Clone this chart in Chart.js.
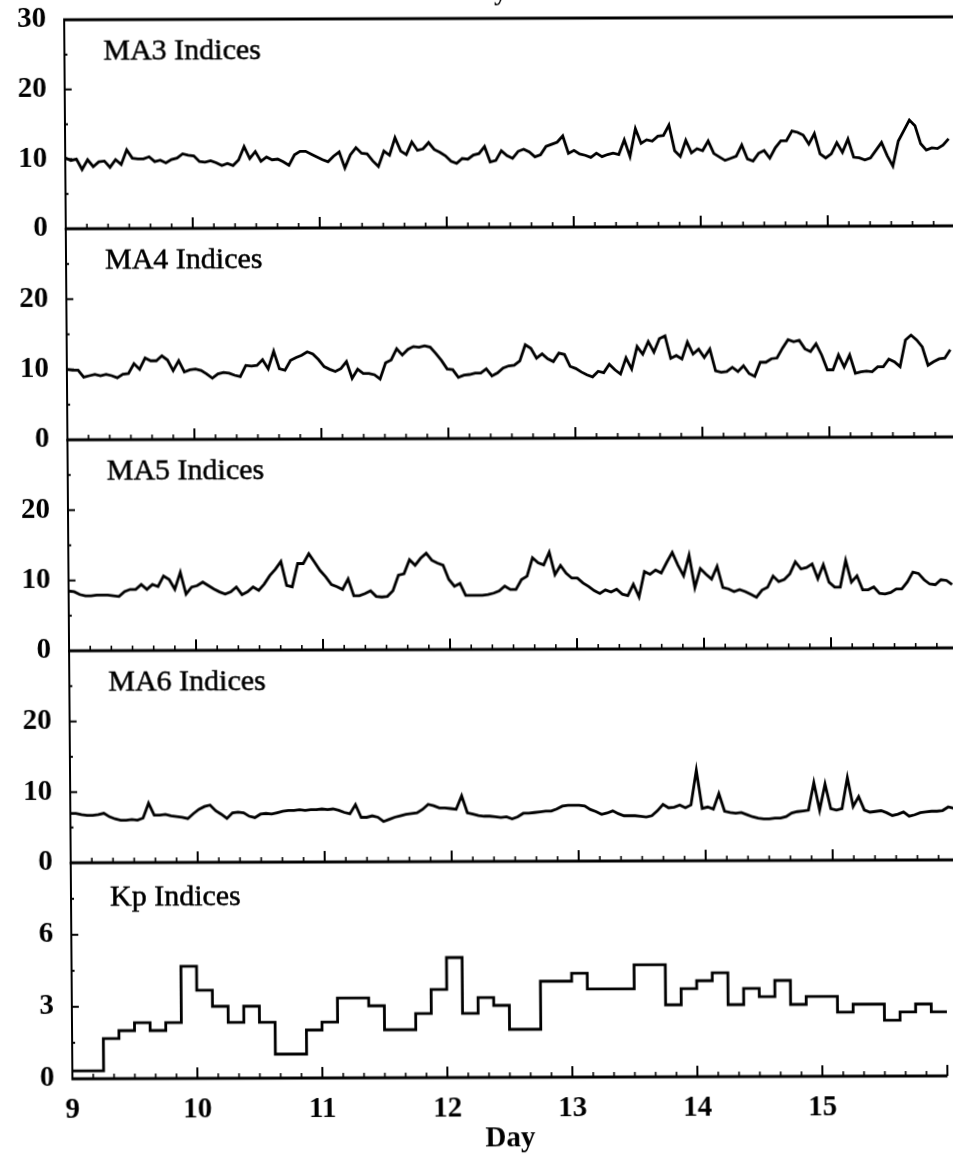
<!DOCTYPE html>
<html>
<head>
<meta charset="utf-8">
<script src="https://cdn.jsdelivr.net/npm/chart.js@4.4.1/dist/chart.umd.min.js"></script>
<style>
    html, body { margin: 0; padding: 0; background: #fff; overflow: hidden; }
    #page {
        position: relative; width: 953px; height: 1172px;
        transform-origin: 0 0;
        /* the scan is slightly skewed: lower parts sit further right, right side a bit higher */
        transform: matrix(1, -0.0033, 0.0078, 1, 0, 0);
    }
    #page canvas { position: absolute; left: 0; }
    .panel-name {
        position: absolute; left: 103px;
        font-family: "Liberation Serif", serif; font-size: 30px; line-height: 30px;
        color: #000; white-space: nowrap; -webkit-text-stroke: 0.5px #000;
    }
</style>
</head>
<body>
<div id="page"></div>
<script>
// MA indices, one reading about every 63 minutes from day 9.0
const SAMPLE_STEP = 0.04403;
const ma3 = [
    10.2, 9.8, 10.0, 8.5, 9.9, 8.9, 9.6, 9.7, 8.8, 9.9,
    9.2, 11.3, 10.1, 10.0, 10.0, 10.3, 9.6, 9.8, 9.4, 9.9,
    10.1, 10.7, 10.5, 10.4, 9.6, 9.5, 9.7, 9.4, 9.0, 9.3,
    9.0, 9.8, 11.7, 10.0, 11.0, 9.6, 10.2, 9.8, 9.9, 9.5,
    9.0, 10.5, 11.0, 11.0, 10.6, 10.2, 9.8, 9.5, 10.3, 10.9,
    8.6, 10.5, 11.5, 10.7, 10.6, 9.6, 8.8, 11.0, 10.4, 12.9,
    11.0, 10.5, 12.3, 11.1, 11.3, 12.2, 11.2, 10.8, 10.3, 9.5,
    9.2, 9.9, 9.8, 10.4, 10.6, 11.6, 9.4, 9.6, 11.0, 10.3,
    9.9, 10.9, 11.2, 10.8, 10.1, 10.4, 11.6, 11.9, 12.2, 13.1,
    10.6, 11.0, 10.5, 10.3, 10.0, 10.6, 10.1, 10.4, 10.6, 10.4,
    12.5, 10.1, 14.1, 12.0, 12.5, 12.3, 13.0, 13.1, 14.6, 10.9,
    10.1, 12.4, 10.6, 11.2, 10.9, 12.3, 10.5, 10.0, 9.5, 9.8,
    10.1, 11.7, 9.7, 9.4, 10.5, 10.9, 9.8, 11.3, 12.3, 12.3,
    13.7, 13.5, 13.1, 11.8, 13.3, 10.4, 9.8, 10.4, 12.0, 10.6,
    12.5, 9.9, 9.8, 9.5, 9.8, 10.9, 12.0, 10.1, 8.6, 12.2,
    13.7, 15.2, 14.4, 11.8, 10.9, 11.2, 11.1, 11.6, 12.5
];
const ma4 = [
    10.0, 9.9, 9.9, 8.9, 9.1, 9.3, 9.1, 9.3, 9.1, 8.8,
    9.3, 9.4, 10.8, 10.0, 11.6, 11.2, 11.2, 11.9, 11.3, 9.8,
    11.2, 9.6, 9.9, 10.0, 9.8, 9.3, 8.7, 9.3, 9.5, 9.4,
    9.1, 8.9, 10.5, 10.4, 10.5, 11.3, 10.0, 12.5, 10.0, 9.8,
    11.2, 11.6, 11.9, 12.4, 12.1, 11.3, 10.3, 9.9, 9.6, 10.0,
    11.0, 8.6, 9.9, 9.3, 9.3, 9.1, 8.5, 10.8, 11.2, 12.8,
    11.9, 12.7, 13.1, 13.0, 13.2, 13.0, 12.1, 11.1, 9.9, 9.8,
    8.7, 9.0, 9.1, 9.3, 9.3, 9.9, 8.9, 9.3, 10.0, 10.3,
    10.4, 11.0, 13.3, 12.8, 11.4, 12.0, 11.3, 10.9, 12.1, 11.9,
    10.2, 9.9, 9.4, 9.0, 8.7, 9.5, 9.3, 10.5, 9.7, 9.1,
    11.4, 9.8, 13.0, 11.9, 13.7, 12.2, 14.1, 14.5, 11.3, 11.7,
    11.2, 13.6, 11.9, 12.6, 11.4, 12.6, 9.5, 9.3, 9.4, 10.0,
    9.4, 10.2, 9.1, 8.7, 10.7, 10.7, 11.2, 11.3, 12.7, 13.9,
    13.6, 13.8, 12.6, 12.2, 13.3, 11.7, 9.6, 9.6, 11.7, 10.0,
    11.7, 9.1, 9.3, 9.4, 9.3, 10.0, 10.0, 11.1, 10.7, 10.0,
    13.8, 14.5, 13.8, 12.8, 10.2, 10.7, 11.1, 11.2, 12.4
];
const ma5 = [
    8.5, 8.4, 8.0, 7.8, 7.8, 7.9, 7.9, 7.9, 7.8, 7.7,
    8.4, 8.7, 8.7, 9.4, 8.7, 9.4, 9.1, 10.6, 10.1, 8.7,
    11.1, 8.0, 9.0, 9.2, 9.7, 9.2, 8.7, 8.3, 8.0, 8.3,
    9.0, 7.9, 8.3, 9.0, 8.5, 9.4, 10.6, 11.5, 12.6, 9.2,
    9.0, 12.3, 12.3, 13.7, 12.5, 11.3, 10.4, 9.3, 9.0, 8.6,
    10.1, 7.7, 7.7, 8.0, 8.4, 7.6, 7.5, 7.6, 8.4, 10.6,
    10.8, 12.8, 12.0, 13.0, 13.7, 12.7, 12.3, 12.0, 10.0, 9.0,
    9.4, 7.7, 7.7, 7.7, 7.7, 7.8, 8.0, 8.3, 9.0, 8.5,
    8.5, 9.9, 10.4, 13.0, 12.3, 12.0, 13.8, 10.6, 11.9, 10.8,
    10.1, 10.1, 9.4, 8.9, 8.3, 7.9, 8.4, 8.1, 8.5, 7.8,
    7.6, 9.2, 7.4, 11.0, 10.6, 11.2, 10.8, 12.3, 13.7, 11.9,
    10.4, 13.3, 8.7, 11.4, 10.6, 9.9, 11.7, 8.7, 8.5, 8.1,
    8.4, 8.1, 7.7, 7.3, 8.3, 8.7, 10.3, 9.5, 9.8, 10.6,
    12.3, 11.3, 11.5, 12.0, 9.9, 11.9, 9.4, 8.7, 8.7, 12.5,
    9.4, 10.3, 8.3, 8.3, 8.7, 7.8, 7.7, 7.9, 8.4, 8.4,
    9.4, 10.8, 10.6, 9.7, 9.1, 9.0, 9.7, 9.6, 9.0
];
const ma6 = [
    7.0, 7.0, 6.8, 6.7, 6.7, 6.8, 7.0, 6.5, 6.2, 6.0,
    6.0, 6.1, 6.0, 6.3, 8.4, 6.7, 6.7, 6.8, 6.6, 6.5,
    6.4, 6.2, 6.9, 7.5, 7.9, 8.1, 7.3, 6.8, 6.2, 7.0,
    7.1, 7.0, 6.5, 6.3, 6.8, 6.9, 6.8, 7.0, 7.2, 7.3,
    7.3, 7.4, 7.3, 7.4, 7.4, 7.5, 7.4, 7.5, 7.3, 7.0,
    6.8, 8.1, 6.3, 6.3, 6.5, 6.3, 5.7, 6.0, 6.3, 6.5,
    6.7, 6.8, 6.9, 7.4, 8.1, 7.9, 7.6, 7.6, 7.5, 7.4,
    9.3, 6.9, 6.7, 6.5, 6.4, 6.4, 6.3, 6.2, 6.3, 6.0,
    6.3, 6.8, 6.8, 6.9, 7.0, 7.1, 7.1, 7.4, 7.8, 7.9,
    7.9, 7.9, 7.8, 7.3, 7.0, 6.6, 6.8, 7.1, 6.7, 6.4,
    6.4, 6.4, 6.3, 6.2, 6.4, 7.1, 8.0, 7.5, 7.6, 7.9,
    7.5, 7.9, 12.8, 7.4, 7.6, 7.3, 9.5, 7.0, 6.8, 6.7,
    6.8, 6.5, 6.2, 6.0, 5.9, 5.9, 6.0, 6.0, 6.2, 6.7,
    6.9, 7.0, 7.1, 11.0, 7.1, 10.8, 7.3, 7.1, 7.3, 11.7,
    7.6, 9.0, 7.1, 6.8, 6.9, 7.0, 6.7, 6.3, 6.5, 6.8,
    6.2, 6.4, 6.7, 6.8, 6.9, 6.9, 7.0, 7.5, 7.3
];
// Kp, 3-hour values from day 9.0
const KP_STEP = 0.125;
const kp = [
    0.33, 0.33, 1.67, 2.0, 2.33, 2.0, 2.33, 4.67,
    3.67, 3.0, 2.33, 3.0, 2.33, 1.0, 1.0, 2.0,
    2.33, 3.33, 3.33, 3.0, 2.0, 2.0, 2.67, 3.67,
    5.0, 2.67, 3.33, 3.0, 2.0, 2.0, 4.0, 4.0,
    4.33, 3.67, 3.67, 3.67, 4.67, 4.67, 3.0, 3.67,
    4.0, 4.33, 3.0, 3.67, 3.33, 4.0, 3.0, 3.33,
    3.33, 2.67, 3.0, 3.0, 2.33, 2.67, 3.0, 2.67
];
const dayLabels = [9, 10, 11, 12, 13, 14, 15];
const panelNames = ['MA3 Indices', 'MA4 Indices', 'MA5 Indices', 'MA6 Indices', 'Kp Indices'];
const panelMax = [30, 30, 30, 30, 9];
const panelStep = [10, 10, 10, 10, 3];

// page layout: panel edges (y of each frame line)
const edges = [20, 229, 440, 651, 863, 1079];
const labelDrop = [20, 20, 20, 20, 23];
const page = document.getElementById('page');

function toPoints(values, step) {
    return values.map((v, i) => ({ x: 9 + i * step, y: v }));
}

// ticks point into the plot, frame lines drawn here too
const frameTicks = {
    id: 'frameTicks',
    afterDatasetsDraw(chart, args, opts) {
        const { ctx, chartArea: a, scales: { x, y } } = chart;
        ctx.save();
        ctx.strokeStyle = '#000';
        ctx.lineCap = 'butt';
        // bottom ticks every 4 hours
        for (let i = 1; i <= 42; i++) {
            const px = x.getPixelForValue(9 + i / 6);
            const major = i % 6 === 0;
            ctx.lineWidth = major ? 2 : 1.6;
            ctx.beginPath();
            ctx.moveTo(px, a.bottom);
            ctx.lineTo(px, a.bottom - (major ? 11 : 5));
            ctx.stroke();
        }
        // left ticks
        const half = opts.step / 2;
        for (let v = half; v < opts.max; v += half) {
            const py = y.getPixelForValue(v);
            const major = Math.abs(v / opts.step - Math.round(v / opts.step)) < 1e-6;
            ctx.lineWidth = 2;
            ctx.beginPath();
            ctx.moveTo(a.left, py);
            ctx.lineTo(a.left + (major ? 7 : 3), py);
            ctx.stroke();
        }
        // frame
        ctx.lineWidth = 2;
        ctx.beginPath();
        ctx.moveTo(a.left, a.top - 1);
        ctx.lineTo(a.left, a.bottom + 1);
        ctx.stroke();
        ctx.lineWidth = 3;
        ctx.beginPath();
        ctx.moveTo(a.left - 1, a.bottom);
        ctx.lineTo(a.right, a.bottom);
        ctx.stroke();
        if (opts.topLine) {
            ctx.beginPath();
            ctx.moveTo(a.left - 1, a.top);
            ctx.lineTo(a.right, a.top);
            ctx.stroke();
            // the bottom of a title line cut off by the page edge
            ctx.fillStyle = '#000';
            ctx.font = 'bold 26px "Liberation Serif"';
            ctx.textBaseline = 'alphabetic';
            ctx.fillText('y', 494, a.top - 18);
        }
        ctx.restore();
    }
};

function makePanel(idx, points, stepped) {
    const top = edges[idx], bottom = edges[idx + 1];
    const last = idx === 4;
    const padTop = 40;   // room for the top tick label and its padding
    const xH = last ? 1172 - bottom : 40;
    const canvas = document.createElement('canvas');
    canvas.width = 953;
    canvas.height = (bottom - top) + padTop + xH;
    canvas.style.top = (top - padTop) + 'px';
    page.appendChild(canvas);

    const name = document.createElement('div');
    name.className = 'panel-name';
    name.textContent = panelNames[idx];
    name.style.top = (top + labelDrop[idx] - 5) + 'px';
    page.appendChild(name);

    const yMax = panelMax[idx];
    new Chart(canvas, {
        type: 'line',
        data: {
            datasets: [{
                data: points,
                borderColor: '#000',
                borderWidth: 2.8,
                pointRadius: 0,
                tension: 0,
                stepped: stepped,
                fill: false
            }]
        },
        options: {
            responsive: false,
            animation: false,
            devicePixelRatio: 1,
            events: [],
            layout: { padding: { top: padTop, left: 0, right: 0, bottom: 0 } },
            plugins: {
                legend: { display: false },
                tooltip: { enabled: false },
                frameTicks: { step: panelStep[idx], max: yMax, topLine: idx === 0 }
            },
            scales: {
                x: {
                    type: 'linear', min: 9, max: 16,
                    afterFit: s => { s.height = xH; },
                    grid: { display: false, drawTicks: false },
                    border: { display: false },
                    ticks: {
                        display: last, stepSize: 1, autoSkip: false, maxRotation: 0,
                        padding: 14, color: '#000',
                        font: { family: 'Liberation Serif', size: 29, weight: 'bold' },
                        callback: v => dayLabels.includes(v) ? String(v) : ''
                    },
                    title: {
                        display: last, text: 'Day', color: '#000',
                        padding: { top: 0, bottom: 14 },
                        font: { family: 'Liberation Serif', size: 29, weight: 'bold' }
                    }
                },
                y: {
                    min: 0, max: yMax,
                    afterFit: s => { s.width = 64; },
                    grid: { display: false, drawTicks: false },
                    border: { display: false },
                    ticks: {
                        stepSize: panelStep[idx], padding: 18, color: '#000',
                        font: { family: 'Liberation Serif', size: 29, weight: 'bold' },
                        callback: v => (v === yMax && idx > 0) ? '' : String(v)
                    }
                }
            }
        },
        plugins: [frameTicks]
    });
}

makePanel(0, toPoints(ma3, SAMPLE_STEP), false);
makePanel(1, toPoints(ma4, SAMPLE_STEP), false);
makePanel(2, toPoints(ma5, SAMPLE_STEP), false);
makePanel(3, toPoints(ma6, SAMPLE_STEP), false);
const kpPoints = toPoints(kp, KP_STEP);
kpPoints.push({ x: 9 + kp.length * KP_STEP, y: kp[kp.length - 1] });
makePanel(4, kpPoints, true);
</script>
</body>
</html>
